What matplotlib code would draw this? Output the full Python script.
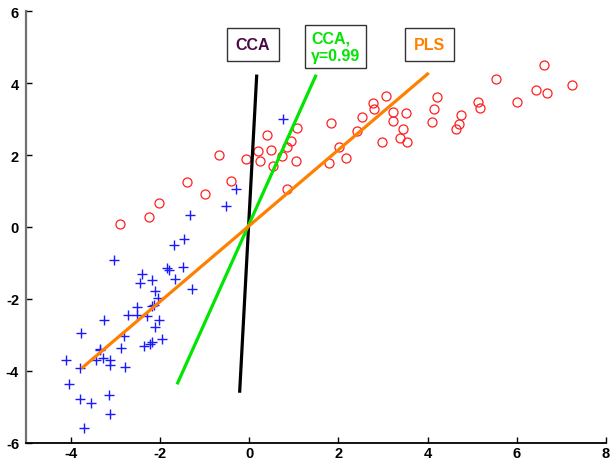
import matplotlib.pyplot as plt
import numpy as np

plt.rcParams['font.family'] = ['Liberation Sans', 'DejaVu Sans']
plt.rcParams['axes.unicode_minus'] = False

# class 1 (blue crosses)
x_plus = [-0.30, -0.52, -1.33, -1.46, -1.69, -3.02, -1.84, -1.79, -1.49, -2.39,
          -2.17, -2.45, -1.66, -2.11, -2.05, -1.27, -2.51, -2.17, -2.72, -2.51,
          -2.28, -2.02, -3.26, -2.10, -3.76, -2.80, -1.96, -2.18, -2.22, -2.35,
          -2.88, -3.35, -3.34, -3.43, -3.27, -3.11, -3.11, -2.77, -4.11, -3.80,
          -4.03, -3.13, -3.79, -3.55, -3.12, -3.70, 0.75, -2.13]
y_plus = [1.05, 0.58, 0.33, -0.33, -0.51, -0.92, -1.13, -1.20, -1.11, -1.31,
          -1.47, -1.56, -1.45, -1.79, -1.97, -1.73, -2.22, -2.20, -2.44, -2.44,
          -2.48, -2.59, -2.59, -2.79, -2.94, -3.04, -3.12, -3.19, -3.25, -3.31,
          -3.37, -3.39, -3.43, -3.70, -3.64, -3.69, -3.83, -3.88, -3.70, -3.91,
          -4.37, -4.66, -4.77, -4.90, -5.19, -5.59, 2.99, -2.17]

# class 2 (red circles)
x_circ = [6.62, 5.53, 7.24, 6.42, 6.67, 6.01, 4.21, 3.07, 2.78, 2.79,
          5.12, 5.17, 4.14, 4.76, 3.23, 3.51, 2.53, 1.83, 3.23, 4.11,
          4.71, 4.64, 3.46, 2.41, 1.07, 0.41, 0.93, 0.85, 0.19, 0.49,
          3.39, 2.98, 3.53, 2.02, 0.74, -0.06, 0.24, 1.06, 2.17, 0.53,
          1.80, 0.84, -0.41, -0.68, -1.39, -2.03, -0.99, -2.24, -2.90]
y_circ = [4.51, 4.12, 3.94, 3.80, 3.73, 3.47, 3.60, 3.63, 3.44, 3.29,
          3.48, 3.31, 3.28, 3.12, 3.20, 3.18, 3.05, 2.88, 2.95, 2.91,
          2.87, 2.71, 2.72, 2.67, 2.76, 2.56, 2.38, 2.23, 2.12, 2.14,
          2.47, 2.35, 2.35, 2.22, 1.96, 1.88, 1.83, 1.83, 1.91, 1.70,
          1.77, 1.05, 1.29, 2.00, 1.24, 0.67, 0.92, 0.29, 0.08]

# projection directions (end points)
cca_x = [-0.21, 0.17]
cca_y = [-4.56, 4.19]
rcca_x = [-1.60, 1.49]
rcca_y = [-4.33, 4.19]
pls_x = [-3.73, 4.00]
pls_y = [-3.90, 4.25]

orange = '#ff8000'
green = '#00e600'
purple = '#4a0a4a'

fig = plt.figure(figsize=(6.10, 4.60), dpi=100)
ax = fig.add_axes([26/610, 16/460, 580/610, 432/460])

ax.plot(x_circ, y_circ, 'o', mfc='none', mec='#ff2020', ms=6.5, mew=0.9)
ax.plot(x_plus, y_plus, '+', color='#1a1aff', ms=7, mew=1.0)

ax.plot(cca_x, cca_y, color='black', lw=2.3)
ax.plot(rcca_x, rcca_y, color=green, lw=2.3)
ax.plot(pls_x, pls_y, color=orange, lw=2.3)

box = dict(boxstyle='square,pad=0.55', fc='white', ec='#333333', lw=1)
ax.text(0.085, 5.07, 'CCA', color=purple, fontsize=11.5, fontweight='bold',
        ha='center', va='center', bbox=box)
ax.text(1.94, 5.01, 'CCA,\n\u03b3=0.99', color=green, fontsize=11.5, fontweight='bold',
        ha='center', va='center', multialignment='left', linespacing=1.2,
        bbox=dict(boxstyle='square,pad=0.35', fc='white', ec='#333333', lw=1))
ax.text(4.05, 5.07, 'PLS', color=orange, fontsize=11.5, fontweight='bold',
        ha='center', va='center', bbox=box)

ax.set_xlim(-5, 8)
ax.set_ylim(-6, 6)
ax.set_xticks(np.arange(-4, 9, 2))
ax.set_yticks(np.arange(-6, 7, 2))
ax.spines['top'].set_visible(False)
ax.spines['right'].set_visible(False)
ax.spines['left'].set_color('#707070')
ax.spines['left'].set_linewidth(1.6)
ax.spines['bottom'].set_linewidth(1.3)
ax.tick_params(direction='in', length=4, width=1, labelsize=10.5)
ax.tick_params(axis='x', pad=2)
ax.tick_params(axis='y', pad=5)
for lab in ax.get_xticklabels() + ax.get_yticklabels():
    lab.set_fontweight('bold')

fig.savefig('out.png', dpi=100)
